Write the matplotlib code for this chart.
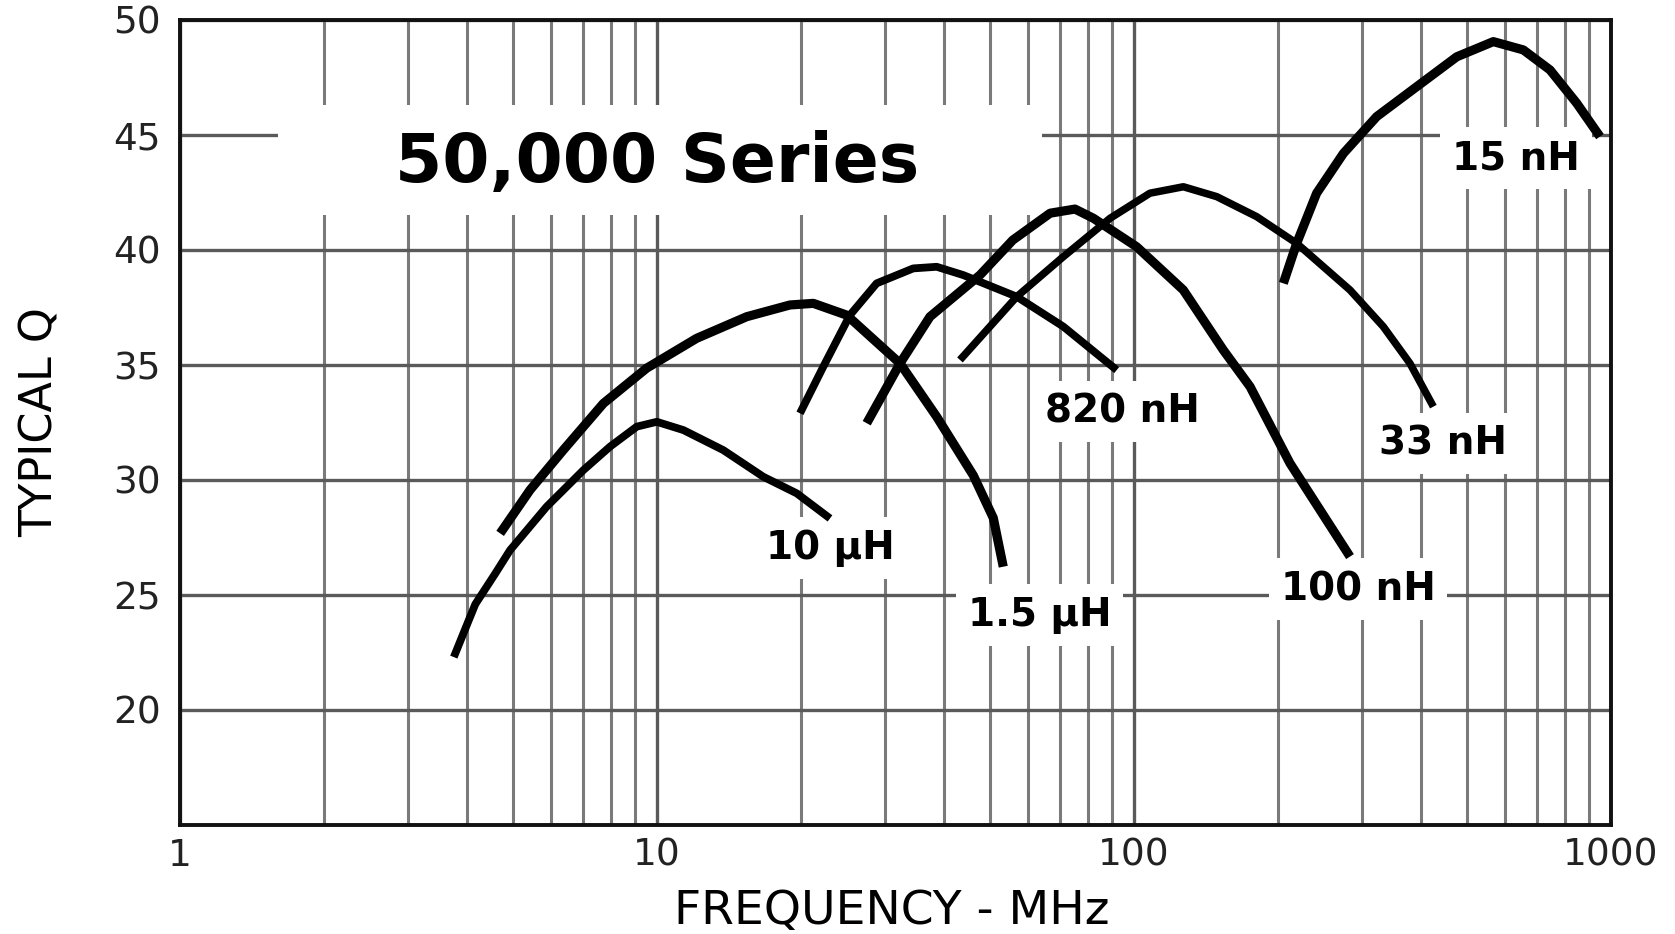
import matplotlib
matplotlib.use('Agg')
import matplotlib.pyplot as plt
from matplotlib.patches import Rectangle

# ---- data ----
freq_10uH = [3.75, 3.94, 4.16, 4.57, 4.92, 5.87, 7.01, 7.97, 9.07, 9.99, 11.36, 13.77, 16.71, 19.63, 23.05]
q_10uH = [22.3, 23.4, 24.6, 25.9, 26.95, 28.84, 30.43, 31.45, 32.32, 32.53, 32.17, 31.3, 30.14, 29.42, 28.33]

freq_1p5uH = [4.69, 5.42, 6.36, 7.72, 9.51, 12.11, 15.42, 19.0, 21.27, 24.98, 32.32, 38.58, 46.04, 50.7, 53.2]
q_1p5uH = [27.68, 29.57, 31.3, 33.33, 34.86, 36.16, 37.1, 37.61, 37.68, 37.17, 35.07, 32.75, 30.2, 28.35, 26.23]

freq_820nH = [19.94, 22.32, 25.38, 28.87, 34.45, 38.58, 43.86, 56.78, 71.1, 91.99]
q_820nH = [32.9, 34.93, 37.17, 38.55, 39.2, 39.27, 38.91, 37.97, 36.67, 34.78]

freq_100nH = [27.52, 32.32, 37.35, 47.54, 55.7, 66.7, 75.2, 82.2, 101.3, 126.9, 153.9, 175.1, 212.3, 283.7]
q_100nH = [32.47, 35.07, 37.1, 38.91, 40.43, 41.6, 41.78, 41.38, 40.14, 38.26, 35.65, 34.06, 30.73, 26.67]

freq_33nH = [43.17, 56.78, 71.1, 89.1, 108.0, 126.9, 149.1, 180.8, 219.3, 283.7, 333.1, 378.9, 424.2]
q_33nH = [35.22, 37.97, 39.71, 41.38, 42.47, 42.75, 42.32, 41.45, 40.29, 38.26, 36.67, 35.07, 33.19]

freq_15nH = [205.6, 219.3, 241.5, 274.8, 322.7, 391.4, 474.9, 566.6, 654.8, 744.9, 847.6, 948.2]
q_15nH = [38.55, 40.29, 42.47, 44.2, 45.8, 47.1, 48.4, 49.06, 48.7, 47.83, 46.38, 44.93]

curve_labels = ["10 \u00b5H", "1.5 \u00b5H", "820 nH", "100 nH", "33 nH", "15 nH"]
label_pos = [(23.05, 27.04), (63.5, 24.13), (94.5, 32.98), (295, 25.26), (445, 31.6), (632, 44.0)]

x_ticks = [1, 10, 100, 1000]
x_ticklabels = ["1", "10", "100", "1000"]
y_ticks = [20, 25, 30, 35, 40, 45, 50]
y_ticklabels = ["20", "25", "30", "35", "40", "45", "50"]
x_minor = [m * d for d in (1, 10, 100) for m in range(2, 10)]

# ---- figure ----
fig = plt.figure(figsize=(16.75, 9.34), dpi=100)
ax = fig.add_axes([180 / 1675, 1 - 825 / 934, 1431 / 1675, 805 / 934])
ax.set_xscale('log')
ax.set_xlim(1, 1000)
ax.set_ylim(15, 50)

ax.set_xticks(x_ticks)
ax.set_xticklabels(x_ticklabels)
ax.set_xticks(x_minor, minor=True)
ax.set_xticklabels([], minor=True)
ax.set_yticks(y_ticks)
ax.set_yticklabels(y_ticklabels)
ax.tick_params(axis='both', which='both', length=0)
ax.tick_params(axis='y', labelsize=27, pad=14, labelcolor='#222222')
ax.tick_params(axis='x', labelsize=27, pad=9, labelcolor='#222222')

ax.grid(True, which='major', axis='both', color='#5a5a5a', lw=2.4, zorder=1)
ax.grid(True, which='minor', axis='x', color='#7a7a7a', lw=2.2, zorder=1)
ax.set_axisbelow(True)

for s in ax.spines.values():
    s.set_linewidth(2.8)
    s.set_color('#111111')

# white box behind the title (grid is blanked there)
ax.add_patch(Rectangle((0.0685, 0.758), 0.534, 0.137, transform=ax.transAxes,
                       facecolor='white', edgecolor='none', zorder=1.5))
fig.text(395 / 1675, 1 - 182 / 934, "50,000 Series", fontsize=49, fontweight='bold',
         ha='left', va='baseline')

series = [(freq_10uH, q_10uH), (freq_1p5uH, q_1p5uH), (freq_820nH, q_820nH),
          (freq_100nH, q_100nH), (freq_33nH, q_33nH), (freq_15nH, q_15nH)]
widths = [5.6, 6.6, 5.6, 6.6, 5.4, 6.6]
for (f, q), w in zip(series, widths):
    ax.plot(f, q, color='black', lw=w, solid_capstyle='butt', solid_joinstyle='round', zorder=4)

for txt, (x, y) in zip(curve_labels, label_pos):
    ax.text(x, y, txt, fontsize=28, fontweight='bold', ha='center', va='center', zorder=3,
            bbox=dict(boxstyle='square,pad=0.3', facecolor='white', edgecolor='none'))

fig.text(892 / 1675, 1 - 912 / 934, "FREQUENCY - MHz", fontsize=34, ha='center', va='center')
fig.text(40 / 1675, 1 - 422 / 934, "TYPICAL Q", fontsize=32, rotation=90, ha='center', va='center')

fig.savefig('out.png', dpi=100, facecolor='white')
